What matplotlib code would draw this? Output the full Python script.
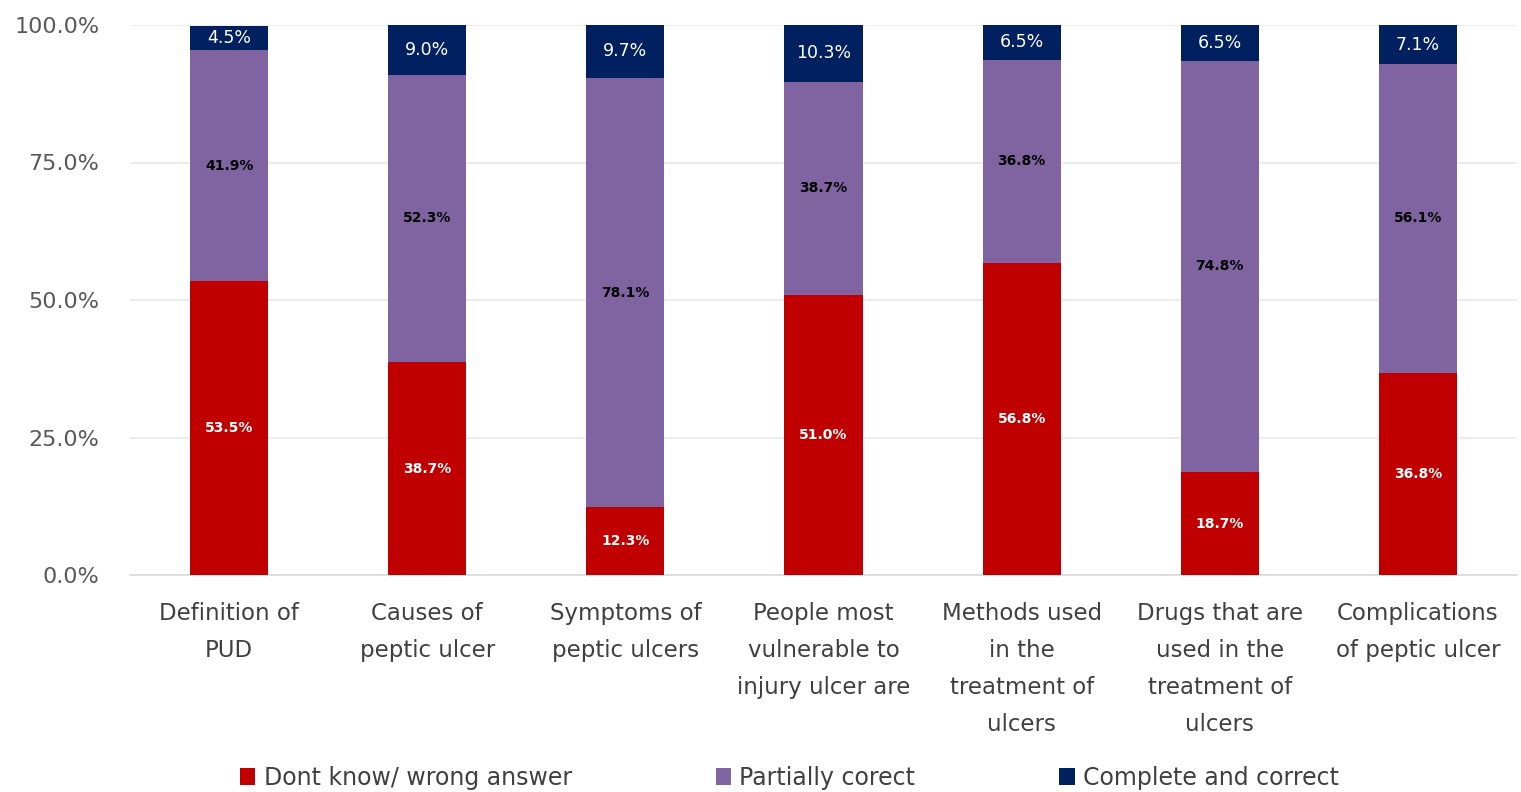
import matplotlib
matplotlib.use("Agg")
import matplotlib.pyplot as plt
from matplotlib.patches import Patch
import numpy as np

categories = ["Definition of\nPUD", "Causes of\npeptic ulcer", "Symptoms of\npeptic ulcers",
              "People most\nvulnerable to\ninjury ulcer are", "Methods used\nin the\ntreatment of\nulcers",
              "Drugs that are\nused in the\ntreatment of\nulcers", "Complications\nof peptic ulcer"]
dont_know = [53.5, 38.7, 12.3, 51.0, 56.8, 18.7, 36.8]
partial = [41.9, 52.3, 78.1, 38.7, 36.8, 74.8, 56.1]
complete = [4.5, 9.0, 9.7, 10.3, 6.5, 6.5, 7.1]
series_names = ["Dont know/ wrong answer", "Partially corect", "Complete and correct"]
yticks = [0, 25, 50, 75, 100]

colors = ["#C00000", "#8064A2", "#002060"]
text_colors = ["white", "black", "white"]
label_sizes = [10, 10, 12.5]
label_weights = ['bold', 'bold', 'normal']

plt.rcParams['font.family'] = ['DejaVu Sans']
fig = plt.figure(figsize=(15.21, 7.92), dpi=100)
ax = fig.add_axes([130/1521, 1-575/792, (1517-130)/1521, 550/792])

x = np.arange(len(categories))
bottom = np.zeros(len(categories))
for vals, c, tc, fs, fw in zip([dont_know, partial, complete], colors, text_colors,
                               label_sizes, label_weights):
    vals = np.array(vals)
    ax.bar(x, vals, width=0.395, bottom=bottom, color=c, zorder=3)
    for xi, b, v in zip(x, bottom, vals):
        ax.text(xi, b + v/2, f"{v:.1f}%", ha='center', va='center', color=tc,
                fontsize=fs, fontweight=fw, zorder=4)
    bottom += vals

ax.set_xlim(-0.5, len(categories)-0.5)
ax.set_ylim(0, 100)
ax.set_yticks(yticks)
ax.set_yticklabels([f"{t:.1f}%" for t in yticks], color="#595959", fontsize=16)
ax.set_xticks(x)
ax.set_xticklabels(categories, color="#404040", fontsize=16.5, linespacing=1.78)
ax.tick_params(axis='both', length=0)
ax.tick_params(axis='x', pad=19.5)
ax.tick_params(axis='y', pad=22)
ax.grid(axis='y', color="#E6E9F0", linewidth=1.2, zorder=0)
for s in ['top', 'right', 'left']:
    ax.spines[s].set_visible(False)
ax.spines['bottom'].set_color("#D9D9D9")
ax.spines['bottom'].set_linewidth(1.2)

handles = [Patch(facecolor=c, label=n) for c, n in zip(colors, series_names)]
fig.legend(handles=handles, loc='center', bbox_to_anchor=(0.519, 1-778/792), ncol=3,
           frameon=False, fontsize=17, handlelength=0.65, handleheight=0.7,
           handletextpad=0.35, columnspacing=6.1, labelcolor="#404040")

fig.savefig("out.png", dpi=100)
